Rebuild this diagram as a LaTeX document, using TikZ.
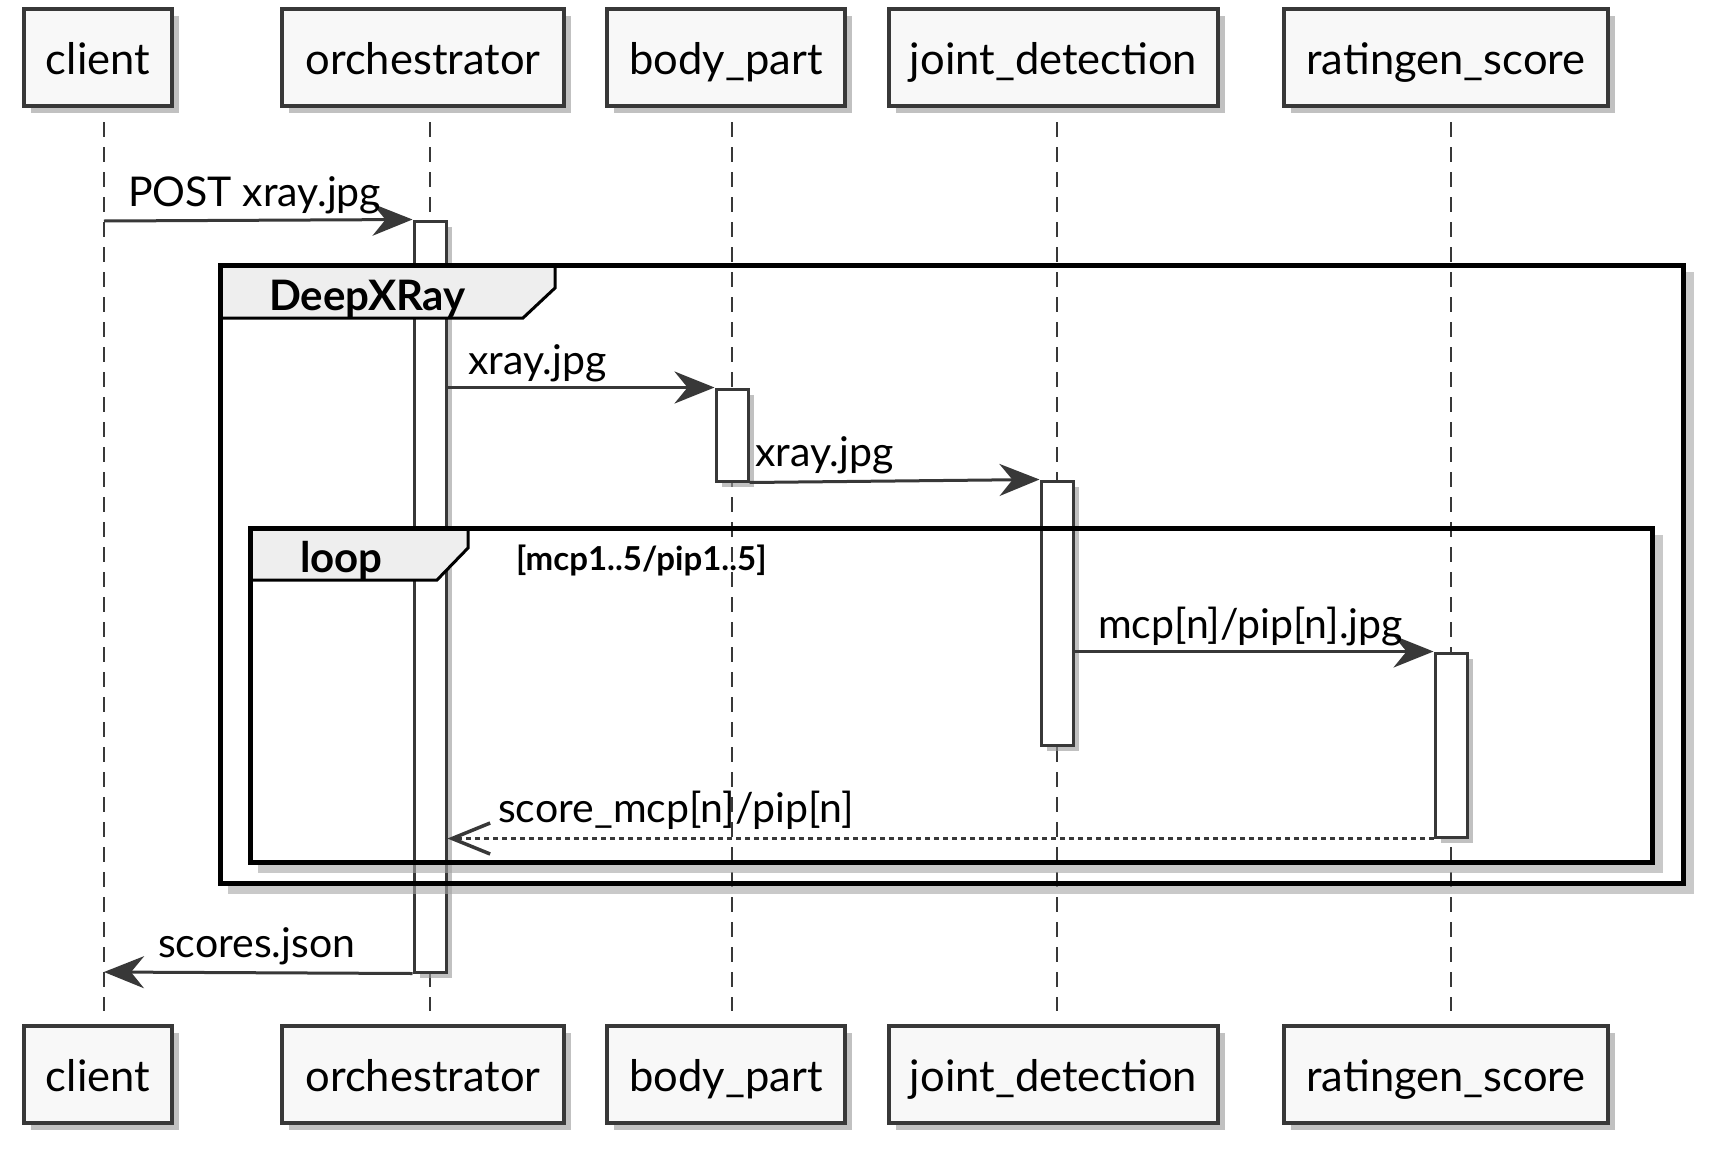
\documentclass[tikz,border=0pt]{standalone}
\usepackage{fontspec}
\setmainfont{Lato}
\usetikzlibrary{positioning,arrows.meta,shadows}
\definecolor{umlline}{HTML}{383838}
\definecolor{umlbox}{HTML}{F8F8F8}
\definecolor{umltab}{HTML}{EEEEEE}

\begin{document}
\begin{tikzpicture}[x=1pt,y=-1pt,
  participant/.style={draw=umlline, fill=umlbox, line width=3.5pt, minimum height=97pt, inner sep=0pt, text height=33pt, text depth=0pt, font=\fontsize{43.5}{52}\selectfont, drop shadow={shadow xshift=7pt, shadow yshift=-7pt, fill=black!40, opacity=.6}},
  lifeline/.style={umlline, line width=2.5pt, dash pattern=on 15pt off 10pt},
  actbar/.style={draw=umlline, fill=white, line width=3pt, minimum width=32pt, inner sep=0pt, drop shadow={shadow xshift=6pt, shadow yshift=-6pt, fill=black!40, opacity=.6}},
  msg/.style={umlline, line width=3pt, -{Stealth[length=40pt,width=32pt,inset=13pt]}},
  reply/.style={umlline, line width=3.5pt, dash pattern=on 5pt off 4pt, -{Straight Barb[length=38pt,width=31pt]}},
  msglabel/.style={anchor=base west, inner sep=0pt, font=\fontsize{41}{49}\selectfont},
  grpshadow/.style={black!35, line width=8pt, opacity=.6},
  grpframe/.style={draw=black, line width=5pt},
  grptab/.style={draw=black, fill=umltab, line width=3pt},
  grptitle/.style={anchor=base west, inner sep=0pt, font=\fontsize{42}{50}\selectfont\bfseries},
  grpcond/.style={anchor=base west, inner sep=0pt, font=\fontsize{33}{40}\selectfont\bfseries}
]
\fill[white] (0,0) rectangle (1714,1154);
\useasboundingbox (0,0) rectangle (1714,1154);

\foreach \x in {104,430,732,1057,1451}
  \draw[lifeline] (\x,122) -- (\x,1011);

\node[participant, minimum width=148pt] (clientT) at (98,57.5) {client};
\node[participant, minimum width=282pt] (orchT) at (423,57.5) {orchestrator};
\node[participant, minimum width=238pt] (bodyT) at (726,57.5) {body\_part};
\node[participant, minimum width=329pt] (jointT) at (1053.5,57.5) {joint\_detection};
\node[participant, minimum width=324pt] (rateT) at (1446,57.5) {ratingen\_score};
\node[participant, minimum width=148pt] (clientB) at (98,1074.5) {client};
\node[participant, minimum width=282pt] (orchB) at (423,1074.5) {orchestrator};
\node[participant, minimum width=238pt] (bodyB) at (726,1074.5) {body\_part};
\node[participant, minimum width=329pt] (jointB) at (1053.5,1074.5) {joint\_detection};
\node[participant, minimum width=324pt] (rateB) at (1446,1074.5) {ratingen\_score};

\node[actbar, minimum height=751pt] (orchA) at (430,596.5) {};
\node[actbar, minimum height=92pt] (bodyA) at (732,435) {};
\node[actbar, minimum height=264pt] (jointA) at (1057,613) {};
\node[actbar, minimum height=184pt] (rateA) at (1451,745) {};

\draw[grpshadow] (1690,272) -- (1690,890) -- (228,890);
\draw[grptab] (220,265) -- (555,265) -- (555,288) -- (523,318) -- (220,318) -- cycle;
\draw[grpframe] (220,265) rectangle (1683,883);
\node[grptitle] (dxrTitle) at (269,310) {DeepXRay};

\draw[grpshadow] (1659,535) -- (1659,869) -- (258,869);
\draw[grptab] (250,528) -- (468,528) -- (468,548) -- (437,580) -- (250,580) -- cycle;
\draw[grpframe] (250,528) rectangle (1652,862);
\node[grptitle] (loopTitle) at (300,572) {loop};
\node[grpcond] (loopCond) at (516,570) {[mcp1..5/pip1..5]};

\coordinate (clientOut) at (104,221);
\coordinate (clientIn) at (104,972);
\draw[msg] (clientOut) -- (orchA.north west);
\draw[msg] (orchA.east |- bodyA.north) -- (bodyA.north west);
\draw[msg] (bodyA.south east) -- (jointA.north west);
\draw[msg] (jointA.east |- rateA.north) -- (rateA.north west);
\draw[reply] (rateA.south west) -- (orchA.east |- rateA.south);
\draw[msg] (orchA.south west) -- (clientIn);

\node[msglabel] (lblPost) at (128,206) {POST xray.jpg};
\node[msglabel] (lblXrayA) at (468,374) {xray.jpg};
\node[msglabel] (lblXrayB) at (755,466) {xray.jpg};
\node[msglabel] (lblMcp) at (1098,638) {mcp[n]/pip[n].jpg};
\node[msglabel] (lblScore) at (498,822) {score\_mcp[n]/pip[n]};
\node[msglabel] (lblScores) at (158,957) {scores.json};
\end{tikzpicture}
\end{document}
